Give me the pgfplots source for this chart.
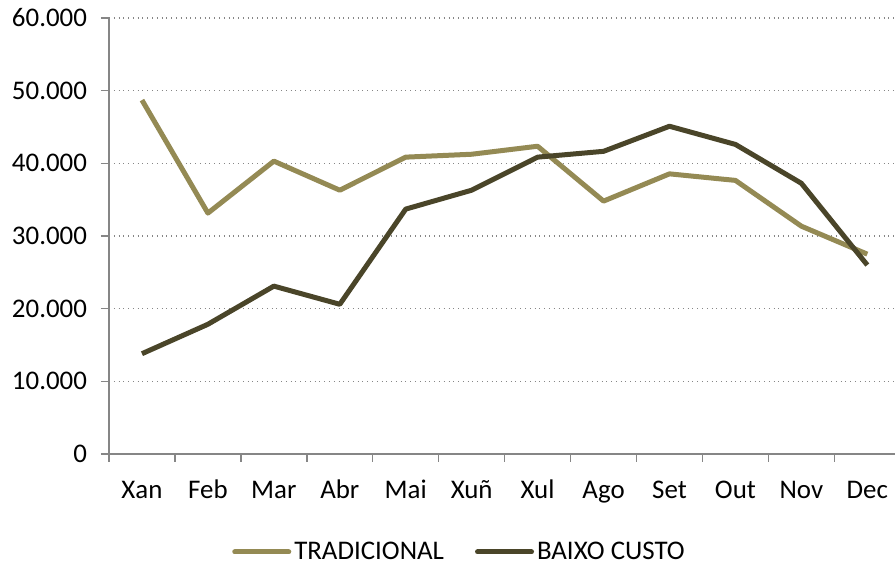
\documentclass[border=0pt]{standalone}
\usepackage{pgfplots}
\pgfplotsset{compat=1.18}
\usepackage{fontspec}
\setmainfont{Carlito}
\definecolor{trad}{HTML}{948A54}
\definecolor{baixo}{HTML}{4A4529}
\definecolor{axgray}{HTML}{868686}
\begin{document}
\begin{tikzpicture}
\begin{axis}[
  name=ax,
  scale only axis,
  width=393bp, height=218bp,
  xmin=-0.5, xmax=11.42,
  ymin=0, ymax=60000,
  axis x line*=bottom, axis y line*=left,
  axis line style={axgray, line width=0.8bp},
  every outer x axis line/.append style={-}, every outer y axis line/.append style={-},
  xtick={-0.5,0.5,...,10.5}, xticklabels={},
  extra x ticks={0,1,...,11},
  extra x tick labels={Xan,Feb,Mar,Abr,Mai,Xuñ,Xul,Ago,Set,Out,Nov,Dec},
  extra x tick style={major tick length=0pt, tick style={draw=none}, xticklabel style={yshift=-9bp, text height=9.5bp, text depth=3bp}},
  ytick={0,10000,...,60000},
  yticklabels={0,10.000,20.000,30.000,40.000,50.000,60.000},
  yticklabel style={xshift=-3.5bp},
  tick align=outside, major tick length=4bp,
  tick style={axgray, line width=0.7bp},
  ymajorgrids, major grid style={axgray, dotted, line width=0.6bp},
  tick label style={font=\fontsize{13.5}{16}\selectfont, text=black},
  scaled y ticks=false,
  clip=false,
  legend style={draw=none, at={(0.4466,-0.2248)}, anchor=center, legend columns=2,
    font=\fontsize{13.5}{16}\selectfont, /tikz/every even column/.append style={column sep=14bp},
    nodes={inner xsep=1.5bp, inner ysep=0.5bp}},
  legend image code/.code={\draw[#1, line cap=round] (0bp,0bp) -- (27bp,0bp);},
]
\addplot[trad, line width=2.5bp, line join=round] coordinates {
(0,48700) (1,33150) (2,40300) (3,36300) (4,40850) (5,41250)
(6,42350) (7,34800) (8,38550) (9,37650) (10,31350) (11,27500)};
\addlegendentry{TRADICIONAL}
\addplot[baixo, line width=2.5bp, line join=round] coordinates {
(0,13800) (1,17850) (2,23100) (3,20600) (4,33700) (5,36300)
(6,40850) (7,41650) (8,45100) (9,42600) (10,37250) (11,26000)};
\addlegendentry{BAIXO CUSTO}
\end{axis}
\pgfresetboundingbox
\path[use as bounding box] ([xshift=-54.5bp, yshift=-54.5bp]ax.south west) rectangle ([yshift=9bp]ax.north east);
\end{tikzpicture}
\end{document}
